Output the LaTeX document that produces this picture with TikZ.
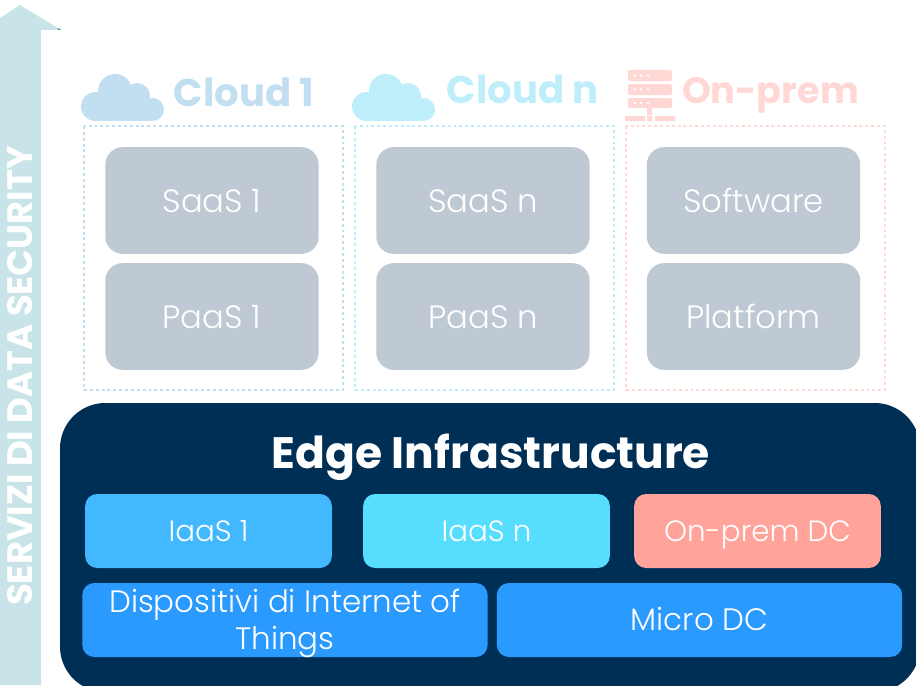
\documentclass[tikz,border=0pt]{standalone}
\usepackage{fontspec}
\setmainfont{Poppins}
\newfontfamily\lightfont{Poppins Light}
\definecolor{arrowTeal}{HTML}{C9E4E8}
\definecolor{arrowSpeck}{HTML}{2A8FA8}
\definecolor{cloudOne}{HTML}{C2DFF1}
\definecolor{cloudN}{HTML}{BEEEFA}
\definecolor{onPrem}{HTML}{FFD8D5}
\definecolor{grayBox}{HTML}{BFC9D3}
\definecolor{edgeNavy}{HTML}{002F56}
\definecolor{iaasOne}{HTML}{42B8FF}
\definecolor{iaasN}{HTML}{57DEFF}
\definecolor{onPremDC}{HTML}{FFA39B}
\definecolor{deviceBlue}{HTML}{2B9AFF}
\newcommand{\cloudIcon}[3]{%
  \foreach \cx/\cy/\cr in {95.5/106.5/14.5,115/91/17,137/96/13,152.5/109.5/11.5} {
    \fill[#3,shift={(#1,#2)}] (\cx,\cy) circle (\cr);
  }
  \fill[#3,shift={(#1,#2)}] (95.5,100) rectangle (152.5,121);%
}
\tikzset{
  x=0.75pt,y=-0.75pt,
  frameBox/.style={dash pattern=on 2.2pt off 2.2pt,line width=2.2pt},
  grayNode/.style={fill=grayBox,text=white,rounded corners=13pt,minimum width=160pt,minimum height=80pt,text height=20pt,text depth=1.5pt,font=\lightfont\fontsize{24.2}{28}\selectfont},
  edgeNode/.style={text=white,rounded corners=9pt,minimum width=185pt,minimum height=55.5pt,align=center,text height=18pt,text depth=2.5pt,font=\lightfont\fontsize{22}{28}\selectfont},
  wideNode/.style={edgeNode,minimum width=304pt,inner sep=0pt,font=\lightfont\fontsize{23.2}{28}\selectfont},
  titleNode/.style={text height=22pt,text depth=2pt,font=\bfseries\fontsize{29}{32}\selectfont},
}
\begin{document}
\begin{tikzpicture}
\useasboundingbox (0,0) rectangle (916,685);
\clip (0,0) rectangle (916,685);
\fill[arrowTeal] (20,5) -- (61,30) -- (41,30) -- (41,685) -- (0,685) -- (0,18) -- cycle;
\fill[arrowSpeck] (58,28) -- (61,30) -- (58,30) -- cycle;
\node[rotate=90,text=white,font=\bfseries\fontsize{26.5}{30}\selectfont] (security) at (20,376) {SERVIZI DI DATA SECURITY};

\cloudIcon{0}{0}{cloudOne}
\cloudIcon{271}{0}{cloudN}
\node[titleNode,text=cloudOne] (cloudOneTitle) at (244,93) {Cloud 1};
\node[titleNode,text=cloudN] (cloudNTitle) at (523,90) {Cloud n};
\node[titleNode,text=onPrem,font=\bfseries\fontsize{27.5}{32}\selectfont] (onPremTitle) at (770.5,90) {On-prem};

\fill[onPrem,rounded corners=1.5pt] (628,70) rectangle (672,81) (628,84) rectangle (672,95) (628,98) rectangle (672,108);
\fill[onPrem] (647,108) rectangle (652,115) (625,116) rectangle (645,121) (647,116) rectangle (652,121) (655,116) rectangle (675,121);
\foreach \y in {75.5,89.5,103} {
  \foreach \x in {635,641,648} {
    \fill[white] (\x,\y) circle (1.4);
  }
}

\draw[frameBox,cloudOne] (84,126) rectangle (343,390);
\draw[frameBox,cloudN] (355,126) rectangle (614,390);
\draw[frameBox,onPrem] (626,126) rectangle (885,390);

\node[grayNode] (saasOne) at (212,200.5) {SaaS 1};
\node[grayNode] (paasOne) at (212,316.5) {PaaS 1};
\node[grayNode] (saasN) at (483,200.5) {SaaS n};
\node[grayNode] (paasN) at (483,316.5) {PaaS n};
\node[grayNode] (software) at (753.5,200.5) {Software};
\node[grayNode] (platform) at (753.5,316.5) {Platform};

\fill[edgeNavy,rounded corners=34pt] (60,403) rectangle (920,692);
\node[text=white,text height=27pt,text depth=2.5pt,font=\bfseries\fontsize{33}{36}\selectfont] (edgeTitle) at (491,452) {Edge Infrastructure};

\node[edgeNode,fill=iaasOne] (iaasOneBox) at (208.5,531) {IaaS 1};
\node[edgeNode,fill=iaasN] (iaasNBox) at (486.5,531) {IaaS n};
\node[edgeNode,fill=onPremDC] (onPremBox) at (757.5,531) {On-prem DC};
\node[wideNode,fill=deviceBlue,text height=46.5pt,text depth=2pt] (devices) at (285,620) {Dispositivi di Internet of\\Things};
\node[wideNode,fill=deviceBlue] (microDC) at (699.5,620) {Micro DC};
\end{tikzpicture}
\end{document}
